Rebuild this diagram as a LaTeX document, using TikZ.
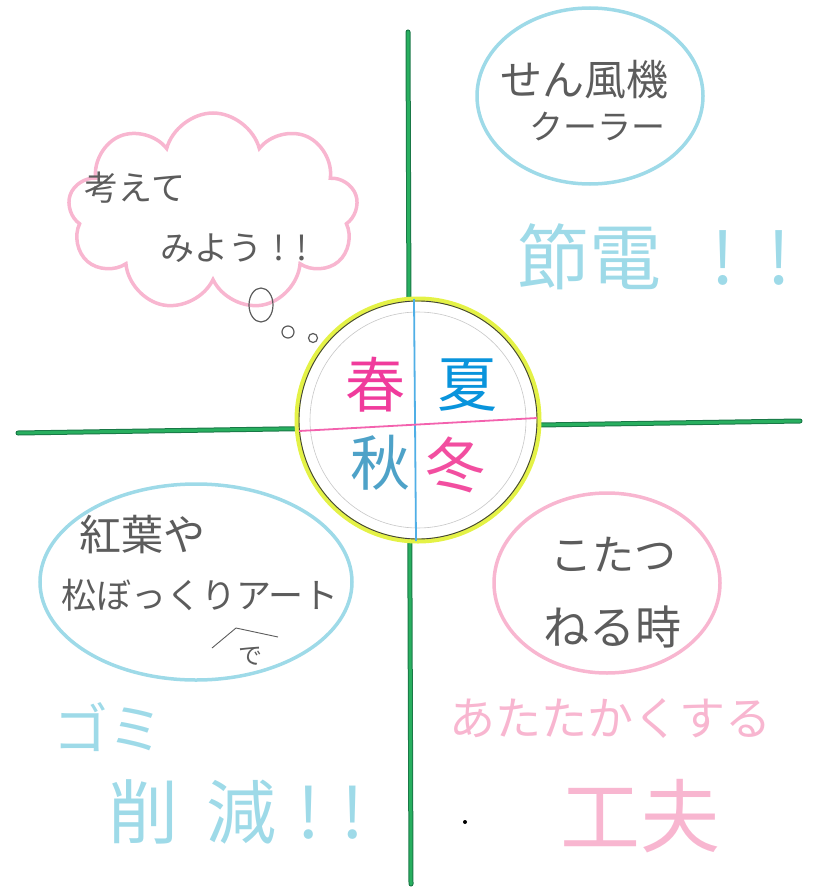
\documentclass[tikz,border=0pt]{standalone}
\usepackage{xcolor}
\usepackage{fontspec}
\newfontfamily\jp{Noto Sans CJK JP}
\usetikzlibrary{shapes.symbols,shapes.geometric}

\definecolor{axisgreen}{RGB}{40,175,95}
\definecolor{axisdark}{RGB}{25,120,70}
\definecolor{pinkpen}{RGB}{248,182,208}
\definecolor{bluepen}{RGB}{158,218,232}
\definecolor{pencilgray}{RGB}{92,92,92}
\definecolor{limepen}{RGB}{228,242,70}

\begin{document}
\begin{tikzpicture}[x=1pt,y=-1pt]
	\colorlet{springcolor}{magenta!70!pink}
	\colorlet{summercolor}{cyan!80!blue}
	\definecolor{autumncolor}{RGB}{78,162,200}
	\colorlet{wintercolor}{magenta!60!pink}
	\tikzset{axis/.style={draw=axisdark,double=axisgreen,double distance=3pt,line width=1pt,line cap=round},
	  bubble/.style={draw=#1,line width=3.5pt},
	  words/.style={font=\jp\fontsize{#1}{#1}\selectfont,inner sep=0pt,align=center}}

	\pgfmathsetmacro{\r}{121}
	\useasboundingbox (0,0) rectangle (814,888);

	% the two axes
	\coordinate (west) at (18,433);
	\coordinate (east) at (800,421);
	\coordinate (north) at (408,32);
	\coordinate (south) at (411,884);
	\draw[axis] (west) -- (east);
	\draw[axis] (north) -- (south);

	% seasons in the middle
	\coordinate (c) at (418,420);
	\fill[white] (c) circle[radius=\r pt];
	\draw[limepen,line width=5pt] (c) circle[radius=\r pt];
	\draw[black!75,line width=0.9pt] (c) circle[radius=\r pt-2pt];
	\draw[black!22,line width=0.6pt] (c) circle[radius=\r pt-13pt];
	\draw[summercolor!70,line width=1.8pt] (414,299) -- (416,541);
	\draw[springcolor!80,line width=1.8pt] (299,431) -- (537,418);
	\node[words=60,text=springcolor] (spring) at (375,385) {春};
	\node[words=60,text=summercolor] (summer) at (467,385) {夏};
	\node[words=60,text=autumncolor] (autumn) at (380,463) {秋};
	\node[words=60,text=wintercolor] (winter) at (455,465) {冬};

	% top left: thinking cloud
	\node[cloud,cloud puffs=9,cloud ignores aspect,bubble=pinkpen,
	  minimum width=290pt,minimum height=198pt] (think) at (213,212) {};
	\node[words=34,text=pencilgray] (think1) at (135,188) {考えて};
	\node[words=34,text=pencilgray] (think2) at (234,248) {みよう\hspace{0.3em}!\hspace{0.35em}!};
	\draw[pencilgray,line width=1.2pt] (261,305) ellipse[x radius=12pt,y radius=17pt];
	\draw[pencilgray,line width=1.2pt] (288,332) circle[radius=6pt];
	\draw[pencilgray,line width=1.2pt] (313,338) circle[radius=4.5pt];

	% top right: summer
	\node[ellipse,bubble=bluepen,minimum width=226pt,minimum height=176pt] (fan) at (590,96) {};
	\node[words=42,text=pencilgray] (fan1) at (584,80) {せん風機};
	\node[words=34,text=pencilgray] (fan2) at (597,127) {クーラー};
	\node[words=72,text=bluepen] (save) at (654,257) {節電\hspace{0.7em}!\hspace{0.45em}!};

	% bottom left: autumn
	\node[ellipse,bubble=bluepen,minimum width=312pt,minimum height=196pt] (art) at (196,582) {};
	\node[words=42,text=pencilgray] (art1) at (142,535) {紅葉や};
	\node[words=35,text=pencilgray] (art2) at (200,595) {松ぼっくりアート};
	\draw[pencilgray,line width=0.9pt] (212,648) -- (236,628) -- (278,637);
	\node[words=24,text=pencilgray] (by) at (250,656) {で};
	\node[words=55,text=bluepen] (trash) at (108,727) {ゴミ};
	\node[words=70,text=bluepen] (cut) at (236,812) {削\hspace{0.4em}減\hspace{0.3em}!\hspace{0.3em}!};

	% bottom right: winter
	\node[ellipse,bubble=pinkpen,minimum width=226pt,minimum height=180pt] (kotatsu) at (607,583) {};
	\node[words=42,text=pencilgray] (kotatsu1) at (613,555) {こたつ};
	\node[words=46,text=pencilgray] (kotatsu2) at (612,627) {ねる時};
	\node[words=46,text=pinkpen] (warm) at (610,718) {あたたかくする};
	\node[words=80,text=pinkpen] (idea) at (640,816) {工夫};
	\fill[black] (465,822) circle[radius=2pt];
\end{tikzpicture}
\end{document}
